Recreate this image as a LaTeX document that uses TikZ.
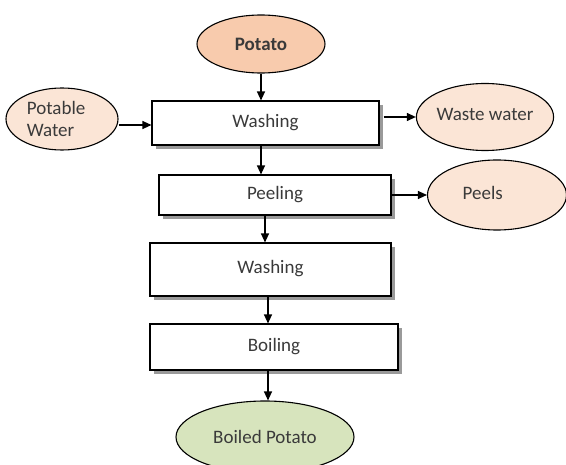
\documentclass[tikz,border=0pt]{standalone}
\usepackage{fontspec}
\setmainfont{Carlito}
\usetikzlibrary{arrows.meta,positioning,shapes.geometric,shadows}
\definecolor{potPeach}{HTML}{F8CBAD}
\definecolor{potLight}{HTML}{FBE5D6}
\definecolor{potGreen}{HTML}{D7E4BD}
\definecolor{potShade}{HTML}{9A9A9A}
\definecolor{potText}{HTML}{3A3A3A}

\tikzset{
  stepbox/.style={draw=black,fill=white,line width=1.1pt,text=potText,
                  drop shadow={shadow xshift=4pt,shadow yshift=-4pt,
                               fill=potShade,opacity=1}},
  flowoval/.style={ellipse,draw=black,line width=1.1pt,inner sep=0pt,text=potText},
  arr/.style={-{Triangle[length=9pt,width=8pt]},line width=1.2pt}
}

\begin{document}
\begin{tikzpicture}[x=1pt,y=-1pt,font=\fontsize{19}{22}\selectfont]
  \useasboundingbox (0,0) rectangle (566,465);
  % inputs and outputs
  \node[flowoval,fill=potPeach,minimum width=128pt,minimum height=58pt,
        font=\fontsize{19}{22}\selectfont\bfseries] (potato) at (261,44) {Potato};
  \node[flowoval,fill=potLight,minimum width=112pt,minimum height=62pt,
        align=left] (water) at (62,119) {Potable\\Water\hspace*{1.2em}};
  \node[flowoval,fill=potLight,minimum width=133pt,minimum height=67pt] (waste) at (485,117) {\raisebox{5pt}{Waste water}};
  \node[flowoval,fill=potLight,minimum width=139pt,minimum height=70pt] (peels) at (497,195) {\raisebox{5pt}{Peels}\hspace*{1.5em}};
  \node[flowoval,fill=potGreen,minimum width=178pt,minimum height=72pt] (boiled) at (265,437) {Boiled Potato};
  % process steps
  \node[stepbox,minimum width=227pt,minimum height=44pt] (wash1) at (265.5,123) {\raisebox{2pt}{Washing}};
  \node[stepbox,minimum width=232pt,minimum height=40pt] (peel) at (275,195) {Peeling};
  \node[stepbox,minimum width=241pt,minimum height=53pt] (wash2) at (270.5,269.5) {\raisebox{5pt}{Washing}};
  \node[stepbox,minimum width=248pt,minimum height=46pt] (boil) at (274,347) {\raisebox{2pt}{Boiling}};

  \draw[arr] (potato.south) -- (potato.south |- wash1.north);
  \draw[arr] (water.east |- 0,125) -- (wash1.west |- 0,125);
  \draw[arr] ([xshift=4pt]wash1.east |- waste) -- (waste.west);
  \draw[arr] (wash1.south -| potato) -- (peel.north -| potato);
  \draw[arr] (peel.east) -- (peels.west);
  \draw[arr] (peel.south -| 265,0) -- (wash2.north -| 265,0);
  \draw[arr] (wash2.south -| 268,0) -- (boil.north -| 268,0);
  \draw[arr] (boil.south -| 268,0) -- (boiled.north -| 268,0);
\end{tikzpicture}
\end{document}
